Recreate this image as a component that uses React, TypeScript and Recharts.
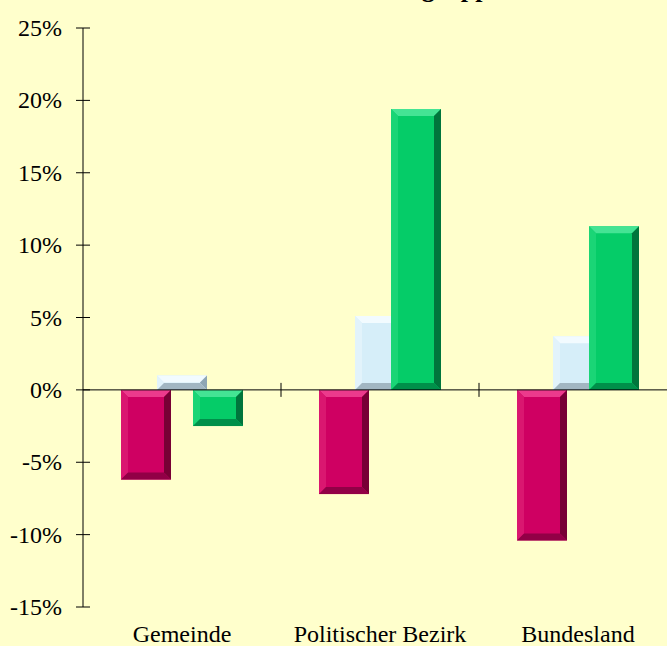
import React from 'react';
import { BarChart, Bar, XAxis, YAxis, ReferenceLine } from 'recharts';

// values (percent change)
const categories = ['Gemeinde', 'Politischer Bezirk', 'Bundesland'];
const groupA = [-6.2, -7.2, -10.4];
const groupB = [1.0, 5.1, 3.7];
const groupC = [-2.5, 19.4, 11.3];
const yTicks = [-15, -10, -5, 0, 5, 10, 15, 20, 25];
const yDomain = [-15, 25];

const data = categories.map((name, i) => ({ name, a: groupA[i], b: groupB[i], c: groupC[i] }));

const FONT = '"Liberation Serif", "Times New Roman", serif';
const W = 700;
const H = 646;
const M = { top: 28, right: 23, bottom: 0, left: 0 };
const Y_W = 83;
const X_H = 39;
const plotW = W - M.left - M.right - Y_W;
const plotH = H - M.top - M.bottom - X_H;

type Pal = { base: string; top: string; left: string; right: string; bottom: string };

const palA: Pal = { base: '#CF0062', top: '#EC3A8C', left: '#DA1770', right: '#780035', bottom: '#920046' };
const palB: Pal = { base: '#D6EEF9', top: '#F2FBFF', left: '#E2F3FB', right: '#8EA6B4', bottom: '#A2B6C2' };
const palC: Pal = { base: '#05CC68', top: '#44E494', left: '#1AD576', right: '#00753C', bottom: '#00904A' };

// bar with a bevelled 3d face
const bevel = (pal: Pal) => (props: any) => {
    const { x, y, width, height } = props;
    if (!width || !height) return null;
    const top = Math.min(y, y + height);
    const h = Math.abs(height);
    const bot = top + h;
    const r = x + width;
    const b = Math.min(7, h / 2, width / 2);
    const pts = (arr: number[][]) => arr.map((p) => p.join(',')).join(' ');
    return (
        <g>
            <rect x={x} y={top} width={width} height={h} fill={pal.base} />
            <polygon points={pts([[x, top], [r, top], [r - b, top + b], [x + b, top + b]])} fill={pal.top} />
            <polygon points={pts([[x, top], [x + b, top + b], [x + b, bot - b], [x, bot]])} fill={pal.left} />
            <polygon points={pts([[r, top], [r, bot], [r - b, bot - b], [r - b, top + b]])} fill={pal.right} />
            <polygon points={pts([[x, bot], [r, bot], [r - b, bot - b], [x + b, bot - b]])} fill={pal.bottom} />
        </g>
    );
};

const YTick = ({ x, y, payload }: any) => (
    <g>
        <line x1={x - 7} x2={x + 7} y1={y} y2={y} stroke="#000" />
        <text x={x - 21} y={y + 8} textAnchor="end" fontSize={24} fontFamily={FONT} fill="#000">
            {payload.value}%
        </text>
    </g>
);

// category label at the bottom, plus the cross tick on the zero line at the band's right edge
const XTick = ({ x, y, payload, index }: any) => {
    const band = plotW / categories.length;
    const zeroY = y - (plotH * (0 - yDomain[0])) / (yDomain[1] - yDomain[0]);
    const bx = x + band / 2;
    return (
        <g>
            {index < categories.length - 1 && <line x1={bx} x2={bx} y1={zeroY - 7} y2={zeroY + 7} stroke="#000" />}
            <text x={x} y={y + 35} textAnchor="middle" fontSize={24} fontFamily={FONT} fill="#000">
                {payload.value}
            </text>
        </g>
    );
};

export default function App() {
    return (
        <div style={{ position: 'absolute', left: 0, top: 0, width: 667, height: 646, overflow: 'hidden', background: '#FFFFCC' }}>
            <div style={{ position: 'absolute', left: 354, top: -24, fontFamily: FONT, fontWeight: 'bold', fontSize: 26, lineHeight: '26px', whiteSpace: 'nowrap' }}>
                Altersgruppen
            </div>
            <BarChart width={W} height={H} data={data} margin={M} barSize={50} barGap={-14}>
                <XAxis dataKey="name" axisLine={false} tickLine={false} tickSize={0} tickMargin={0} height={X_H} tick={<XTick />} interval={0} />
                <YAxis width={Y_W} domain={yDomain} ticks={yTicks} interval={0} axisLine={{ stroke: '#000' }} tickLine={false} tickSize={0} tickMargin={0} tick={<YTick />} />
                <Bar dataKey="a" shape={bevel(palA)} isAnimationActive={false} />
                <Bar dataKey="b" shape={bevel(palB)} isAnimationActive={false} />
                <Bar dataKey="c" shape={bevel(palC)} isAnimationActive={false} />
                <ReferenceLine y={0} stroke="#000" />
            </BarChart>
        </div>
    );
}
